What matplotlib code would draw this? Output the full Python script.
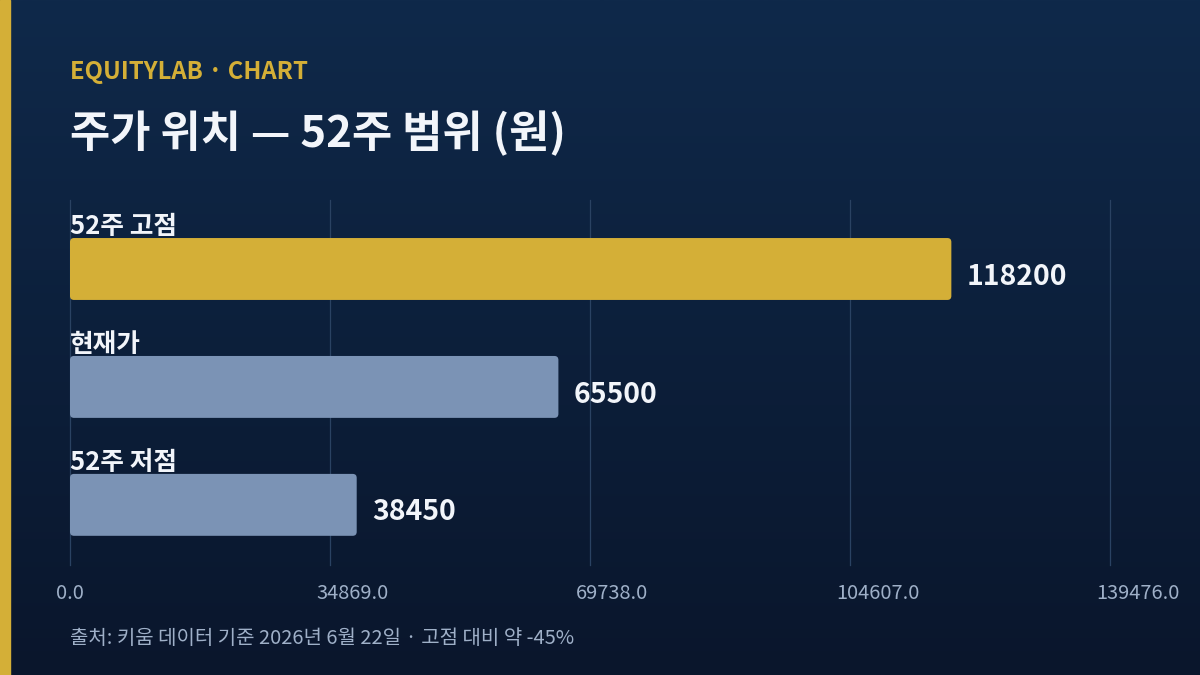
import numpy as np
import matplotlib
matplotlib.use('Agg')
import matplotlib.pyplot as plt
import matplotlib.transforms as mtransforms
from matplotlib.patches import FancyBboxPatch, Rectangle

plt.rcParams['font.family'] = ['Noto Sans CJK KR', 'DejaVu Sans']

# data
labels = ['52주 고점', '현재가', '52주 저점']
values = [118200, 65500, 38450]
bar_colors = ['#d4af37', '#7b93b5', '#7b93b5']
x_max = max(values) * 1.18
x_ticks = np.linspace(0, x_max, 5)

kicker = 'EQUITYLAB · CHART'
title = '주가 위치 — 52주 범위 (원)'
footer = '출처: 키움 데이터 기준 2026년 6월 22일 · 고점 대비 약 -45%'

GOLD = '#d4af37'
TEXT = '#f2f5fa'
MUTED = '#9fb0c8'
GRID = '#2a4262'

W, H = 1200, 675
fig = plt.figure(figsize=(W / 100, H / 100), dpi=100)

# background gradient
bg = fig.add_axes([0, 0, 1, 1])
grad = np.linspace(0, 1, 256).reshape(-1, 1)
top = np.array([0x0f, 0x29, 0x4a]) / 255
bot = np.array([0x0a, 0x16, 0x2c]) / 255
img = top + (bot - top) * grad[:, :, None]
bg.imshow(img, aspect='auto', extent=[0, 1, 0, 1])
bg.add_patch(Rectangle((0, 0), 10 / W, 1, color=GOLD))
bg.set_xlim(0, 1)
bg.set_ylim(0, 1)
bg.axis('off')

fig.text(70 / W, 1 - 72 / H, kicker, color=GOLD, fontsize=17.2, fontweight='bold', va='center')
fig.text(70 / W, 1 - 133 / H, title, color=TEXT, fontsize=31.5, fontweight='bold', va='center')
fig.text(70 / W, 1 - 639 / H, footer, color=MUTED, fontsize=14.4, va='center')

ax = fig.add_axes([70 / W, 1 - 565 / H, 1040 / W, 365 / H])
ax.set_facecolor('none')
ax.set_xlim(0, x_max)
ax.set_ylim(2.51, -0.585)

bar_h = 0.525
px_x = x_max / 1040  # data units per pixel
px_y = 3.095 / 365
r = 4 * px_x
for i, (lab, val, col) in enumerate(zip(labels, values, bar_colors)):
    ax.add_patch(FancyBboxPatch((0, i - bar_h / 2), val, bar_h,
                                boxstyle=f'round,pad=0,rounding_size={r}',
                                mutation_aspect=px_y / px_x,
                                facecolor=col, edgecolor='none', zorder=3))
    ax.annotate(lab, (0, i - bar_h / 2), xytext=(0, -1.5), textcoords='offset points',
                color=TEXT, fontsize=18.5, fontweight='bold', va='bottom', ha='left', zorder=4)
    ax.annotate(str(val), (val, i), xytext=(11, -5.5), textcoords='offset points',
                color=TEXT, fontsize=20.4, fontweight='bold', va='center', ha='left', zorder=4)

ax.set_xticks(x_ticks)
ax.set_xticklabels([f'{t:.1f}' for t in x_ticks])
ax.set_yticks([])
ax.tick_params(axis='x', length=0, pad=13, labelsize=14.4, labelcolor=MUTED)
# tick labels start a little left of their gridline
shift = mtransforms.ScaledTranslation(-14 / 100, 0, fig.dpi_scale_trans)
for tl in ax.get_xticklabels():
    tl.set_horizontalalignment('left')
    tl.set_transform(tl.get_transform() + shift)
ax.grid(axis='x', color=GRID, linewidth=0.9, zorder=0)
for gl in ax.get_xgridlines():
    gl.set_clip_on(False)
for s in ax.spines.values():
    s.set_visible(False)

fig.savefig('out.png', dpi=100)
